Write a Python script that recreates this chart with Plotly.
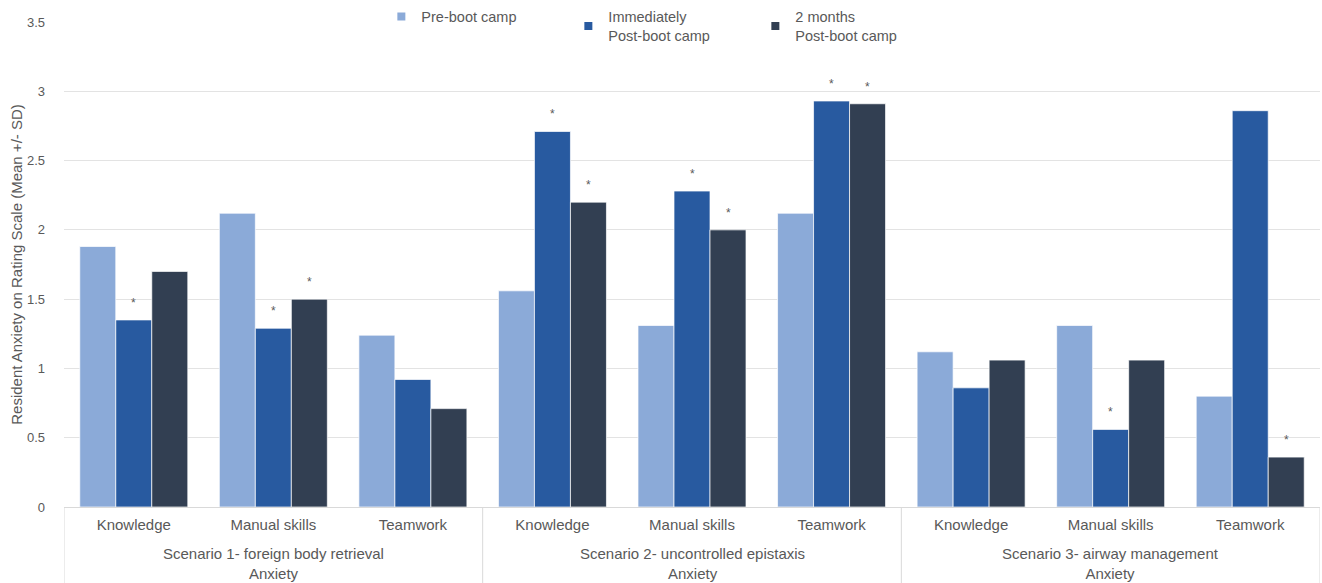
import plotly.graph_objects as go

# Skill areas within each scenario
skills = ["Knowledge", "Manual skills", "Teamwork"]
scenarios = [
    "Scenario 1- foreign body retrieval<br>Anxiety",
    "Scenario 2- uncontrolled epistaxis<br>Anxiety",
    "Scenario 3- airway management<br>Anxiety",
]
categories = [s for _ in scenarios for s in skills]

# Mean anxiety ratings per time point
pre_boot = [1.88, 2.12, 1.24, 1.56, 1.31, 2.12, 1.12, 1.31, 0.80]
immediately_post = [1.35, 1.29, 0.92, 2.71, 2.28, 2.93, 0.86, 0.56, 2.86]
two_months_post = [1.70, 1.50, 0.71, 2.20, 2.00, 2.91, 1.06, 1.06, 0.36]

# Significance markers (True = "*") for each series
sig_immediately = [True, True, False, True, True, True, False, True, False]
sig_two_months = [False, True, False, True, True, True, False, False, True]

series_names = ["Pre-boot camp", "Immediately<br>Post-boot camp", "2 months<br>Post-boot camp"]
colors = ["#8BAAD8", "#285AA0", "#323F52"]

TEXT = "#595959"
GRID = "#E3E3E3"
FONT = "Liberation Sans, Arial, sans-serif"
BARGAP = 0.226

x_idx = list(range(len(categories)))

fig = go.Figure()
for name, vals, col in zip(series_names, [pre_boot, immediately_post, two_months_post], colors):
    fig.add_trace(go.Bar(
        x=x_idx, y=vals, name=name, showlegend=False,
        marker=dict(color=col, line=dict(color="rgba(255,255,255,0.7)", width=1)),
        hoverinfo="x+y",
    ))

# Legend entries with small square swatches
for name, col in zip(series_names, colors):
    fig.add_trace(go.Scatter(
        x=[None], y=[None], mode="markers", name=name,
        marker=dict(symbol="square", size=8, color=col),
    ))

# Asterisks above significant bars
bar_w = (1 - BARGAP) / 3
annotations = []
for k, (vals, sig) in enumerate([(immediately_post, sig_immediately), (two_months_post, sig_two_months)], start=1):
    for i, (v, s) in enumerate(zip(vals, sig)):
        if s:
            annotations.append(dict(
                x=i + (k - 1) * bar_w, y=v, xref="x", yref="y",
                text="*", showarrow=False, yanchor="middle", yshift=17,
                font=dict(size=12, color=TEXT, family=FONT),
            ))

# Scenario group labels under the skill labels
for g, label in enumerate(scenarios):
    annotations.append(dict(
        x=g * 3 + 1, y=-0.074, xref="x", yref="paper",
        text=label, showarrow=False, yanchor="top", xanchor="center",
        font=dict(size=15, color=TEXT, family=FONT),
    ))

# Vertical dividers between scenario groups
shapes = []
for b in [-0.5, 2.5, 5.5, 8.5]:
    shapes.append(dict(
        type="line", xref="x", yref="paper", x0=b, x1=b, y0=0, y1=-0.16,
        line=dict(color="#D9D9D9", width=1),
    ))

fig.update_layout(
    width=1322, height=583,
    margin=dict(l=64, r=2, t=22, b=76, autoexpand=False),
    paper_bgcolor="white", plot_bgcolor="white",
    barmode="group", bargap=BARGAP, bargroupgap=0,
    font=dict(family=FONT, color=TEXT, size=14),
    legend=dict(
        orientation="h", x=0.476, xanchor="center", y=1.044, yanchor="top",
        bgcolor="rgba(0,0,0,0)", font=dict(size=14.5, color=TEXT),
        entrywidth=142, entrywidthmode="pixels", itemwidth=30,
        traceorder="normal",
    ),
    xaxis=dict(
        range=[-0.5, 8.5], tickmode="array", tickvals=x_idx, ticktext=categories,
        showgrid=False, showline=True, linecolor="#D9D9D9", linewidth=1,
        ticks="", tickfont=dict(size=15, color=TEXT), ticklabelstandoff=4,
        zeroline=False, fixedrange=True,
    ),
    yaxis=dict(
        range=[0, 3.5], dtick=0.5, tick0=0, showgrid=True, gridcolor=GRID, gridwidth=1,
        zeroline=False, showline=False, ticks="",
        tickfont=dict(size=13, color=TEXT), ticklabelstandoff=18,
        title=dict(text="Resident Anxiety on Rating Scale (Mean +/- SD)",
                   font=dict(size=15, color=TEXT), standoff=0),
    ),
    annotations=annotations,
    shapes=shapes,
    showlegend=True,
)

fig.write_html("out.html")
